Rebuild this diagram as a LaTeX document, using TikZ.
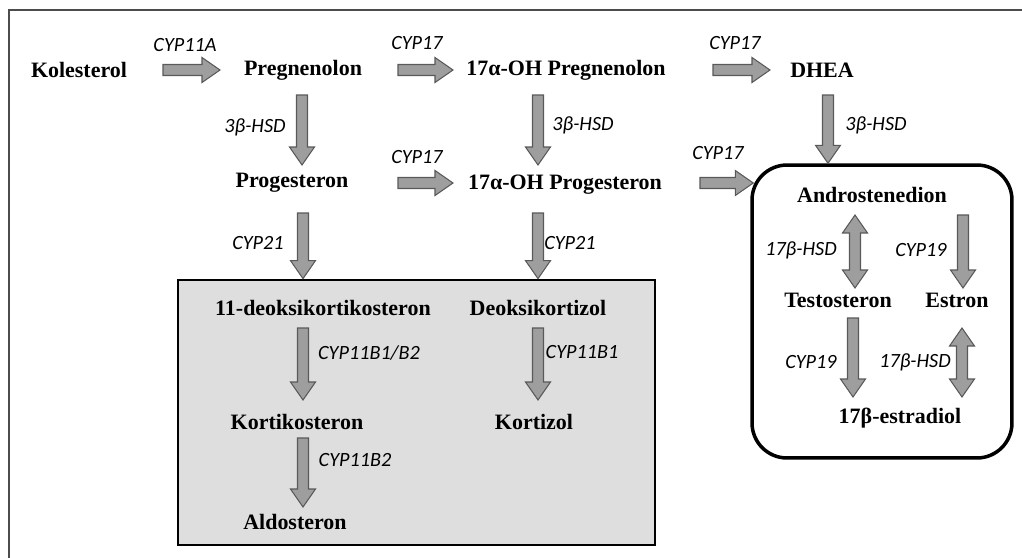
\documentclass[tikz,border=0pt]{standalone}
\usepackage{fontspec}
\setmainfont{Liberation Serif}
\newfontfamily\enzfamily{Carlito}
\usetikzlibrary{calc}

\def\abody{0.11cm}
\def\ahead{0.25cm}
\def\alen{0.36cm}

\newcommand{\harrow}[2]{%
  \draw[blockarrow] let \p1=(#1), \p2=(#2) in
    (\x1,\y1+\abody) -- (\x2-\alen,\y1+\abody) -- (\x2-\alen,\y1+\ahead) -- (\x2,\y1)
    -- (\x2-\alen,\y1-\ahead) -- (\x2-\alen,\y1-\abody) -- (\x1,\y1-\abody) -- cycle;}
\newcommand{\varrow}[2]{%
  \draw[blockarrow] let \p1=(#1), \p2=(#2) in
    (\x1-\abody,\y1) -- (\x1+\abody,\y1) -- (\x1+\abody,\y2+\alen) -- (\x1+\ahead,\y2+\alen)
    -- (\x1,\y2) -- (\x1-\ahead,\y2+\alen) -- (\x1-\abody,\y2+\alen) -- cycle;}
\newcommand{\dvarrow}[2]{%
  \draw[blockarrow] let \p1=(#1), \p2=(#2) in
    (\x1,\y1) -- (\x1+\ahead,\y1-\alen) -- (\x1+\abody,\y1-\alen) -- (\x1+\abody,\y2+\alen)
    -- (\x1+\ahead,\y2+\alen) -- (\x1,\y2) -- (\x1-\ahead,\y2+\alen) -- (\x1-\abody,\y2+\alen)
    -- (\x1-\abody,\y1-\alen) -- (\x1-\ahead,\y1-\alen) -- cycle;}

\begin{document}
\begin{tikzpicture}[x=0.02cm,y=0.02cm,
  met/.style={font=\bfseries\fontsize{12.5}{14}\selectfont,inner sep=2pt},
  enz/.style={font=\enzfamily\itshape\fontsize{11.5}{13}\selectfont,inner sep=1pt},
  blockarrow/.style={fill=black!38,draw=black!65,line width=0.6pt},
  gcbox/.style={draw,line width=1.6pt,fill=black!13,minimum width=9.54cm,minimum height=5.3cm},
  andbox/.style={draw,line width=2pt,rounded corners=0.7cm,minimum width=5.2cm,minimum height=5.86cm}]
\useasboundingbox (0,0) rectangle (1022,-558);
\draw[black!70,line width=0.6pt] (1022,-10) -- (9,-10) -- (9,-558);

\node[gcbox] (gc) at (416.5,-412.5) {};
\node[andbox] (andbox) at (882,-311.5) {};

\node[met] (kol) at (79,-70) {Kolesterol};
\node[met] (preg) at (303,-70) {Pregnenolon};
\node[met] (ohpreg) at (566,-70) {17α-OH Pregnenolon};
\node[met] (dhea) at (822,-70) {DHEA};
\node[met] (prog) at (292,-183) {Progesteron};
\node[met] (ohprog) at (565,-185) {17α-OH Progesteron};
\node[met] (doc) at (323,-308) {11-deoksikortikosteron};
\node[met] (dcort) at (538,-308) {Deoksikortizol};
\node[met] (cortico) at (297,-422) {Kortikosteron};
\node[met] (cort) at (534,-422) {Kortizol};
\node[met] (aldo) at (295,-522) {Aldosteron};
\node[met] (andro) at (872,-195) {Androstenedion};
\node[met] (testo) at (838,-300) {Testosteron};
\node[met] (estron) at (957,-300) {Estron};
\node[met] (estradiol) at (900,-418) {17β-estradiol};

\node[enz] (cypa) at (185,-45) {CYP11A};
\node[enz] (cypb) at (417,-43) {CYP17};
\node[enz] (cypc) at (735,-43) {CYP17};
\node[enz] (hsda) at (255,-127) {3β-HSD};
\node[enz] (hsdb) at (583,-125) {3β-HSD};
\node[enz] (hsdc) at (876,-125) {3β-HSD};
\node[enz] (cypd) at (417,-157) {CYP17};
\node[enz] (cype) at (718,-153) {CYP17};
\node[enz] (cypf) at (258,-243) {CYP21};
\node[enz] (cypg) at (570,-243) {CYP21};
\node[enz] (cyph) at (369,-353) {CYP11B1/B2};
\node[enz] (cypi) at (582,-352) {CYP11B1};
\node[enz] (cypj) at (355,-460) {CYP11B2};
\node[enz] (hsdd) at (801,-250) {17β-HSD};
\node[enz] (cypk) at (921,-250) {CYP19};
\node[enz] (cypl) at (811,-362) {CYP19};
\node[enz] (hsde) at (915,-362) {17β-HSD};

\harrow{$(kol)+(84,0)$}{$(preg)+(-83,0)$}
\harrow{$(preg)+(95,0)$}{$(ohpreg)+(-113,0)$}
\harrow{$(ohpreg)+(147,0)$}{$(dhea)+(-52,0)$}
\harrow{$(prog)+(106,0)$}{$(ohprog)+(-112,0)$}
\harrow{$(ohprog)+(135,2)$}{$(andbox.west)+(3,0)$}

\varrow{$(preg)+(-1,-25)$}{$(prog)+(0,18)$}
\varrow{$(ohpreg)+(-28,-25)$}{$(ohprog)+(0,20)$}
\varrow{$(dhea)+(6,-25)$}{andbox.north}
\varrow{$(prog)+(11,-30)$}{gc.north}
\varrow{$(ohprog)+(-27,-28)$}{gc.north}
\varrow{$(doc)+(-20,-20)$}{$(cortico)+(0,22)$}
\varrow{$(dcort)+(0,-20)$}{$(cort)+(0,22)$}
\varrow{$(cortico)+(6,-16)$}{$(aldo)+(0,15)$}
\varrow{$(andro)+(91,-20)$}{$(estron)+(0,12)$}
\varrow{$(testo)+(15,-18)$}{$(estradiol)+(0,21)$}
\dvarrow{$(andro)+(-17,-20)$}{$(testo)+(0,12)$}
\dvarrow{$(estron)+(5,-28)$}{$(estradiol)+(0,21)$}
\end{tikzpicture}
\end{document}
